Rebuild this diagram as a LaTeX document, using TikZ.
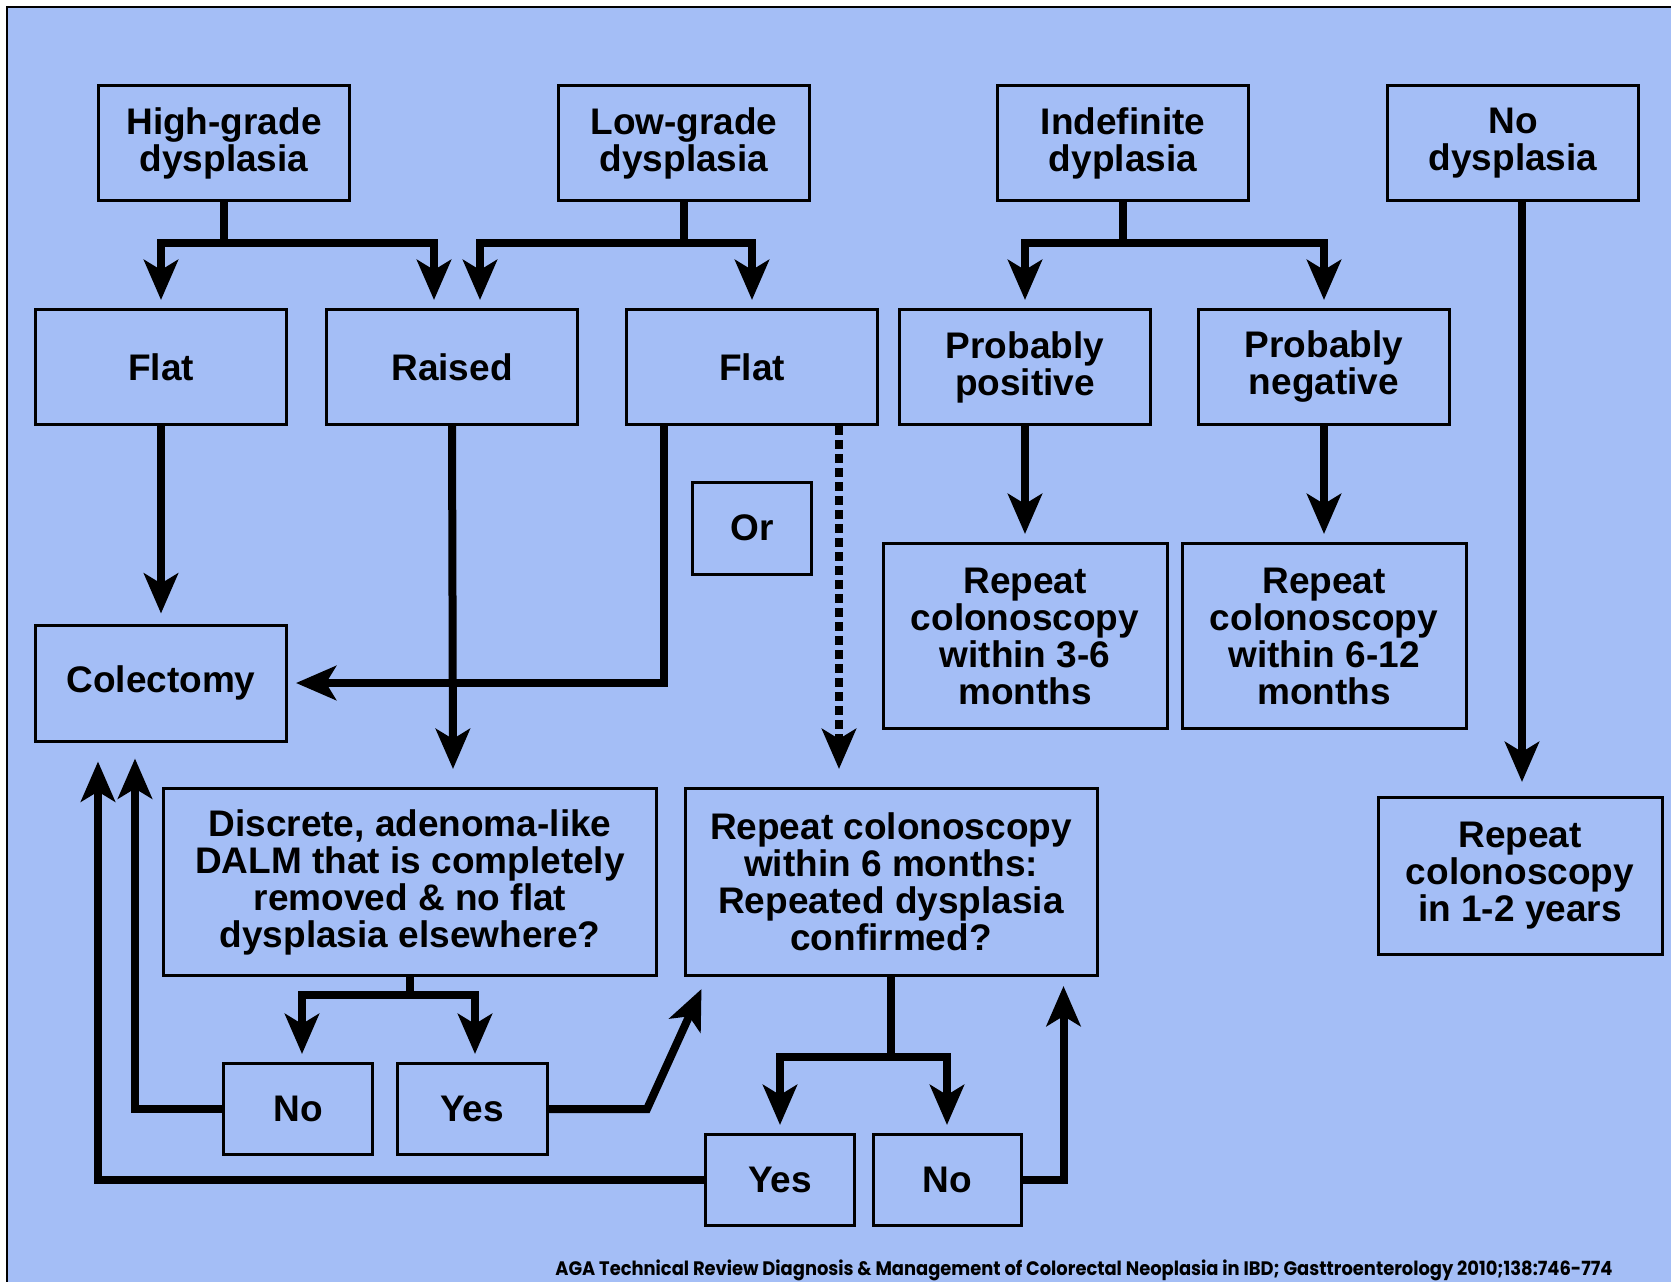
\documentclass[tikz,border=0pt]{standalone}
\usepackage{fontspec}
\usepackage{graphicx}
\setmainfont{Liberation Sans}
\newfontfamily\citefont{Poppins}
\usetikzlibrary{arrows.meta,calc}
\definecolor{panelblue}{RGB}{164,190,246}

\begin{document}
\begin{tikzpicture}[x=1pt,y=-1pt,
  box/.style={draw, line width=3pt, inner sep=0pt, align=center,
    font=\fontsize{37}{37}\selectfont\bfseries},
  wire/.style={line width=8pt, line join=miter},
  tip/.tip={Stealth[length=40pt,width=34pt,inset=10pt]},
  arr/.style={wire, -tip},
  arrs/.style={wire, tip-tip},
]
\useasboundingbox (0,0) rectangle (1671,1282);
\fill[white] (0,0) rectangle (1671,1282);
\fill[panelblue] (7,7) rectangle (1671,1282);
\draw[line width=1.5pt] (7,1282) -- (7,7) -- (1671,7);

% top row: diagnosis
\node[box, minimum width=251pt, minimum height=115pt] (hg)  at (224,143)  {High-grade\\dysplasia};
\node[box, minimum width=251pt, minimum height=115pt] (lg)  at (684,143)  {Low-grade\\dysplasia};
\node[box, minimum width=251pt, minimum height=115pt] (ind) at (1123,143) {Indefinite\\dyplasia};
\node[box, minimum width=251pt, minimum height=115pt] (nod) at (1513,143) {No\\dysplasia};

% second row: lesion type
\node[box, minimum width=251pt, minimum height=115pt] (flat1)  at (161,367)  {Flat};
\node[box, minimum width=251pt, minimum height=115pt] (raised) at (452,367)  {Raised};
\node[box, minimum width=251pt, minimum height=115pt] (flat2)  at (752,367)  {Flat};
\node[box, minimum width=251pt, minimum height=115pt] (ppos)   at (1025,367) {Probably\\positive};
\node[box, minimum width=251pt, minimum height=115pt] (pneg)   at (1324,367) {Probably\\negative};

\node[box, minimum width=119pt, minimum height=92pt] (orbox) at (752,528) {Or};

% management
\node[box, minimum width=251pt, minimum height=116pt] (colec)  at (161,683)  {Colectomy};
\node[box, minimum width=284pt, minimum height=185pt] (rep36)  at (1025,636) {Repeat\\colonoscopy\\within 3-6\\months};
\node[box, minimum width=284pt, minimum height=185pt] (rep612) at (1324,636) {Repeat\\colonoscopy\\within 6-12\\months};
\node[box, minimum width=493pt, minimum height=187pt] (discrete) at (410,882) {Discrete, adenoma-like\\DALM that is completely\\removed \& no flat\\dysplasia elsewhere?};
\node[box, minimum width=412pt, minimum height=187pt] (rep6)   at (891,882)  {Repeat colonoscopy\\within 6 months:\\Repeated dysplasia\\confirmed?};
\node[box, minimum width=284pt, minimum height=157pt] (rep12)  at (1520,876) {Repeat\\colonoscopy\\in 1-2 years};

% answers
\node[box, minimum width=149pt, minimum height=91pt] (no1)  at (298,1109) {No};
\node[box, minimum width=150pt, minimum height=91pt] (yes1) at (472,1109) {Yes};
\node[box, minimum width=149pt, minimum height=91pt] (yes2) at (780,1180) {Yes};
\node[box, minimum width=148pt, minimum height=91pt] (no2)  at (947,1180) {No};

% reference line
\node[inner sep=0pt] (cite) at (1084,1270)
  {\resizebox*{1057pt}{21pt}{\citefont\bfseries AGA Technical Review Diagnosis \& Management of Colorectal Neoplasia in IBD; Gasttroenterology 2010;138:746-774}};

% branching from the diagnoses
\coordinate (hgj) at (224,243);
\draw[wire] (hg.south) -- (hgj);
\draw[arrs] ($(flat1.north)+(0,-8)$) |- (hgj) -| ($(raised.north)+(-18,-8)$);

\coordinate (lgj) at (684,243);
\draw[wire] (lg.south) -- (lgj);
\draw[arrs] ($(raised.north)+(28,-8)$) |- (lgj) -| ($(flat2.north)+(0,-8)$);

\coordinate (indj) at (1123,243);
\draw[wire] (ind.south) -- (indj);
\draw[arrs] ($(ppos.north)+(0,-8)$) |- (indj) -| ($(pneg.north)+(0,-8)$);

\draw[arr] ($(nod.south)+(9,0)$) -- ($(rep12.north)+(2,-14)$);

% lesion type to management
\draw[arr] (flat1.south) -- ($(colec.north)+(0,-10)$);
\draw[arr] (raised.south) -- ($(discrete.north)+(43,-18)$);
\draw[arr] ($(flat2.south)+(-88,0)$) |- ($(colec.east)+(8,0)$);
\draw[arr, dash pattern=on 9pt off 5pt] ($(flat2.south)+(87,0)$) -- ($(rep6.north)+(-52,-18)$);
\draw[arr] (ppos.south) -- ($(rep36.north)+(0,-8)$);
\draw[arr] (pneg.south) -- ($(rep612.north)+(0,-8)$);

% DALM question
\coordinate (dj) at (410,995);
\draw[wire] (discrete.south) -- (dj);
\draw[arrs] ($(no1.north)+(4,-8)$) |- (dj) -| ($(yes1.north)+(3,-8)$);
\draw[arr] (no1.west) -| ($(colec.south west)+(101,16)$);
\coordinate (yk) at (647,1109);
\draw[arr] (yes1.east) -- (yk) -- ($(rep6.south west)+(18,12)$);

% repeated dysplasia question
\coordinate (rj) at (891,1057);
\draw[wire] (rep6.south) -- (rj);
\draw[arrs] ($(yes2.north)+(0,-8)$) |- (rj) -| ($(no2.north)+(0,-8)$);
\draw[arr] (yes2.west) -| ($(colec.south west)+(64,19)$);
\draw[arr] (no2.east) -| ($(rep6.south east)+(-35,9)$);
\end{tikzpicture}
\end{document}
